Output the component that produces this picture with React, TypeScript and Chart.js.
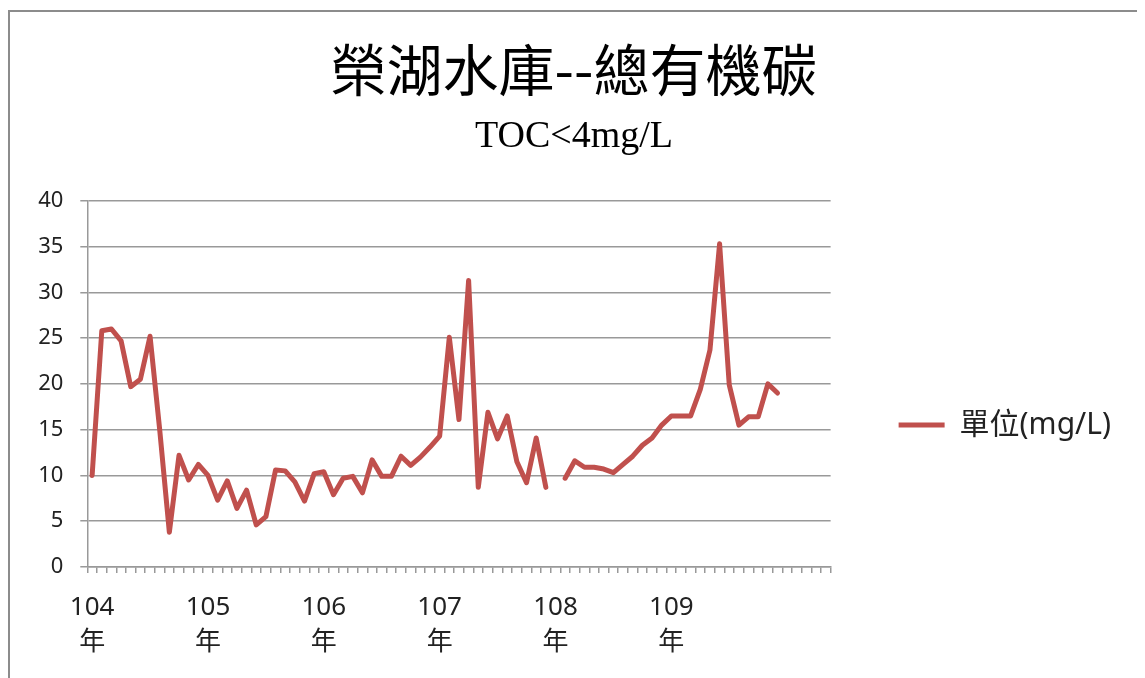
import { useEffect, useRef } from 'react';
import { Chart, registerables } from 'chart.js';

Chart.register(...registerables);

const chartTitle = '榮湖水庫--總有機碳';
const chartSubtitle = 'TOC<4mg/L';
const seriesName = '單位(mg/L)';

const years = ['104', '105', '106', '107', '108', '109', '110'];
const monthsPerYear = [12, 12, 12, 12, 12, 12, 5];
const yearTickLabels = ['104', '105', '106', '107', '108', '109'];
const yearSuffix = '年';

const toc104 = [10.0, 25.8, 26.0, 24.7, 19.7, 20.5, 25.2, 15.0, 3.8, 12.2, 9.5, 11.2];
const toc105 = [10.0, 7.3, 9.4, 6.4, 8.4, 4.6, 5.5, 10.6, 10.5, 9.3, 7.2, 10.2];
const toc106 = [10.4, 7.9, 9.7, 9.9, 8.1, 11.7, 9.9, 9.9, 12.1, 11.1, 12.0, 13.1];
const toc107 = [14.3, 25.1, 16.1, 31.3, 8.7, 16.9, 14.0, 16.5, 11.5, 9.2, 14.1, 8.7];
const toc108: (number | null)[] = [null, 9.7, 11.6, 10.9, 10.9, 10.7, 10.3, 11.2, 12.1, 13.3, 14.1, 15.5];
const toc109 = [16.5, 16.5, 16.5, 19.4, 23.7, 35.3, 19.9, 15.5, 16.4, 16.4, 20.0, 19.0];
const toc110: (number | null)[] = [null, null, null, null, null];

const yMin = 0;
const yMax = 40;
const yStep = 5;

const categories: string[] = [];
years.forEach((y, yi) => {
  for (let m = 1; m <= monthsPerYear[yi]; m++) categories.push(`${y}/${String(m).padStart(2, '0')}`);
});
const values: (number | null)[] = [...toc104, ...toc105, ...toc106, ...toc107, ...toc108, ...toc109, ...toc110];

const tickFont = "'Noto Sans', 'Noto Sans CJK TC', sans-serif";
const sidePad = 17;

export default function App() {
  const ref = useRef<HTMLCanvasElement>(null);
  useEffect(() => {
    const chart = new Chart(ref.current!, {
      type: 'line',
      data: {
        labels: categories,
        datasets: [
          {
            label: seriesName,
            data: values,
            borderColor: '#C0504D',
            backgroundColor: '#C0504D',
            borderWidth: 5,
            pointRadius: 0,
            pointHoverRadius: 0,
            tension: 0,
            spanGaps: false,
            borderJoinStyle: 'round',
            borderCapStyle: 'round',
            pointStyle: 'line',
          },
        ],
      },
      options: {
        responsive: false,
        animation: false,
        devicePixelRatio: 1,
        layout: { padding: { left: sidePad, right: sidePad, top: 0, bottom: 0 } },
        plugins: {
          title: {
            display: true,
            text: chartTitle,
            color: '#000',
            font: { family: "'Noto Sans CJK TC', sans-serif", size: 56, weight: 'normal', lineHeight: 1.2 },
            padding: { top: 24, bottom: 0 },
          },
          subtitle: {
            display: true,
            text: chartSubtitle,
            color: '#000',
            font: { family: "'Liberation Serif', serif", size: 38, weight: 'normal', lineHeight: 1.2 },
            padding: { top: 11, bottom: 41 },
          },
          legend: {
            display: true,
            position: 'right',
            align: 'center',
            maxWidth: 400,
            labels: {
              usePointStyle: true,
              pointStyle: 'line',
              pointStyleWidth: 46,
              padding: 68,
              color: '#222',
              font: { family: tickFont, size: 30 },
            },
          },
          tooltip: { enabled: false },
        },
        scales: {
          x: {
            type: 'category',
            offset: true,
            afterFit: (s: any) => {
              s.height = 271;
            },
            grid: {
              display: true,
              offset: true,
              drawOnChartArea: false,
              drawTicks: true,
              tickLength: 6,
              color: '#999',
              lineWidth: 1.5,
            },
            border: { display: true, color: '#999', width: 1.5 },
            ticks: {
              autoSkip: false,
              maxRotation: 0,
              minRotation: 0,
              padding: 17,
              color: '#222',
              font: { family: tickFont, size: 26, lineHeight: 1.35 },
              callback: (_v: any, index: number) =>
                index % 12 === 0 && index / 12 < yearTickLabels.length
                  ? [yearTickLabels[index / 12], yearSuffix]
                  : '',
            },
          },
          y: {
            min: yMin,
            max: yMax,
            afterFit: (s: any) => {
              s.width = 77.3 - sidePad;
            },
            grid: {
              color: '#999',
              lineWidth: 1.5,
              drawTicks: true,
              tickLength: 7,
            },
            border: { display: true, color: '#999', width: 1.5 },
            ticks: {
              stepSize: yStep,
              padding: 17,
              color: '#222',
              font: { family: tickFont, size: 22 },
            },
          },
        },
      },
    });
    return () => chart.destroy();
  }, []);

  return (
    <div style={{ position: 'relative', height: 670, overflow: 'hidden' }}>
      <div
        style={{
          position: 'absolute',
          left: 0,
          top: 2,
          width: 1128,
          height: 826,
          border: '2px solid #8c8c8c',
          background: '#fff',
        }}
      >
        <canvas ref={ref} width={1128} height={826} style={{ display: 'block' }} />
      </div>
    </div>
  );
}
